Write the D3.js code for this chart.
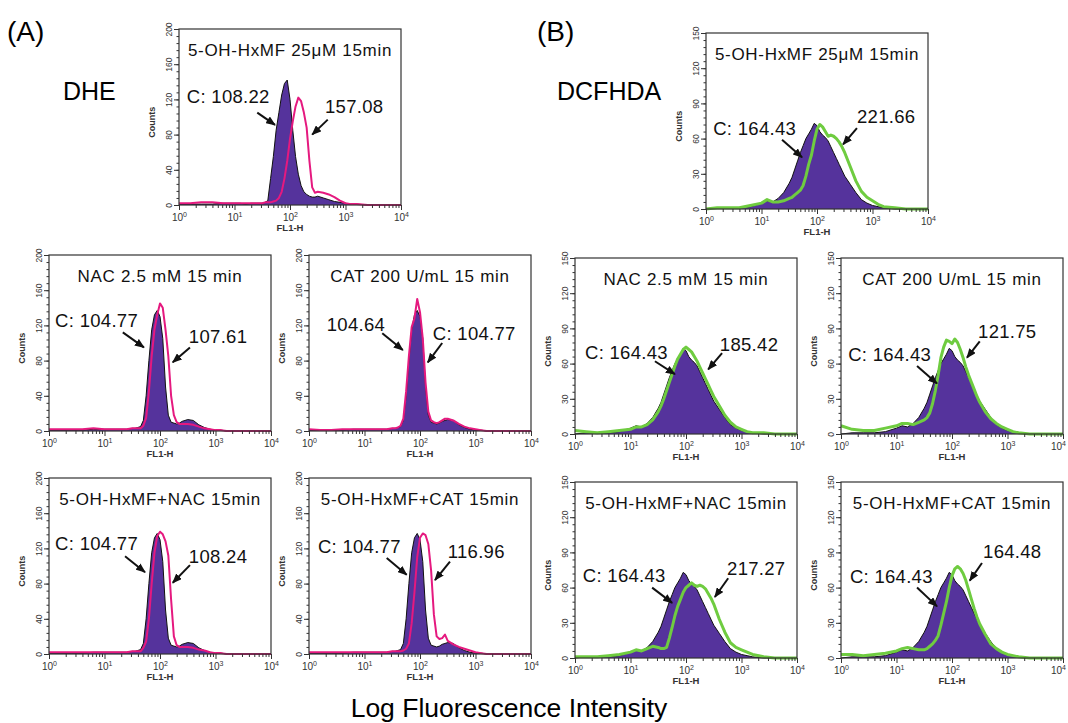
<!DOCTYPE html>
<html>
<head>
<meta charset="utf-8">
<script src="https://cdn.jsdelivr.net/npm/d3@7"></script>
<style>
  body { margin: 0; background: #fff; }
  svg { font-family: "Liberation Sans", Arial, sans-serif; }
</style>
</head>
<body>
<script>
// FL1-H channel positions, as log10 of the fluorescence value
const channelExp = [0, 0.2, 0.4, 0.6, 0.8, 1.0, 1.1, 1.2, 1.3, 1.4, 1.5, 1.55,
  1.6, 1.65, 1.7, 1.75, 1.8, 1.85, 1.9, 1.95, 2.0, 2.05,
  2.1, 2.15, 2.2, 2.25, 2.3, 2.35, 2.4, 2.45, 2.5, 2.6,
  2.7, 2.8, 2.9, 3.0, 3.1, 3.2, 3.4, 3.6, 3.8, 4.0];

// (A) DHE counts
const dheCtrlTop   = [1,1,1,1,2,2,2,1,2,2,2,3,
  5,30,55,85,105,125,138,142,120,85, 55,35,22,15,12,10,9,9,10,8, 6,4,3,2,1,1,0,0,0,0];
const dheHxmf      = [2,2,3,3,2,2,2,2,2,2,2,3,
  3,3,4,5,8,15,30,50,75,95, 112,122,118,105,88,50,20,14,15,14, 12,9,5,2,1,1,0,0,0,0];
const dheCtrl      = [1,1,1,1,2,2,2,2,2,2,3,3,
  4,5,12,40,80,115,132,137,130,105, 50,18,10,9,8,9,11,12,13,12, 7,4,2,1,1,0,0,0,0,0];
const dheNac       = [2,2,2,2,3,2,2,2,2,2,3,3,
  3,3,6,15,45,85,115,132,145,140, 115,85,40,18,10,8,8,8,8,7, 5,3,2,1,1,0,0,0,0,0];
const dheCat       = [2,1,1,2,2,2,2,2,2,2,3,3,
  4,6,14,45,85,118,128,150,135,105, 55,22,12,10,9,10,12,14,14,12, 8,5,3,2,1,0,0,0,0,0];
const dheHxmfNac   = [2,2,2,2,2,2,2,2,2,2,3,3,
  3,3,7,14,40,80,115,134,139,136, 128,112,62,20,10,8,8,8,8,7, 5,4,2,1,1,0,0,0,0,0];
const dheHxmfCat   = [2,2,2,2,2,2,2,2,2,2,3,3,
  3,3,4,6,12,35,70,110,132,137, 135,125,95,45,20,17,18,22,15,11, 8,6,4,2,1,0,0,0,0,0];

// (B) DCFHDA counts
const dcfCtrl      = [0,1,1,1,2,5,7,6,9,14,22,27,
  34,41,48,54,60,64,68,73,71,66, 63,61,58,53,48,43,38,33,28,21, 14,8,5,3,2,1,0,0,0,0];
const dcfHxmf      = [0,1,1,1,3,5,8,6,6,7,9,10,
  12,14,16,20,28,38,46,58,68,72, 70,66,62,63,62,60,57,53,48,36, 24,15,10,7,4,2,1,0,0,0];
const dcfNac       = [3,2,1,2,3,4,6,6,8,12,19,24,
  30,37,44,51,58,64,68,72,74,72, 70,66,62,57,52,47,42,37,32,24, 16,10,6,4,2,1,1,0,0,0];
const dcfCat       = [7,4,3,3,5,7,9,9,8,10,12,14,
  18,26,37,50,65,74,80,79,77,81, 78,72,65,57,50,44,38,32,27,19, 13,9,6,4,2,1,0,0,0,0];
const dcfHxmfNac   = [1,1,1,2,3,5,7,6,8,10,9,8,
  8,9,17,26,36,44,50,56,60,62, 64,62,61,62,61,59,55,51,46,33, 22,13,9,7,5,3,1,0,0,0];
const dcfHxmfCat   = [3,3,2,3,4,6,8,9,8,7,7,8,
  10,12,15,19,28,38,48,60,70,76, 78,76,72,66,58,50,42,35,29,20, 12,8,5,3,2,1,0,0,0,0];

const yTicksA = [0, 40, 80, 120, 160, 200];
const yTicksB = [0, 30, 60, 90, 120, 150];
const xMajor = [1, 10, 100, 1000, 10000];
const xExpLabels = ['0', '1', '2', '3', '4'];

const titles = ['5-OH-HxMF 25\u03bcM 15min', 'NAC 2.5 mM 15 min', 'CAT 200 U/mL 15 min',
  '5-OH-HxMF+NAC 15min', '5-OH-HxMF+CAT 15min'];

const purple = '#55339c', magenta = '#e5197f', green = '#6fcc40';
const W = 222, H = 176, pageW = 1068;

// annotation: text at [exp, count], arrow from [exp, count] to [exp, count]
const panels = [
  {left: 179, top: 29, ymax: 200, yTicks: yTicksA, control: dheCtrlTop, treat: dheHxmf, color: magenta, lw: 2, title: titles[0],
   notes: [{t: 'C: 108.22', at: [0.14, 116], from: [1.41, 105], to: [1.73, 91]},
           {t: '157.08', at: [2.63, 105], from: [2.68, 97], to: [2.40, 80]}]},
  {left: 49, top: 255, ymax: 200, yTicks: yTicksA, control: dheCtrl, treat: dheNac, color: magenta, lw: 2, title: titles[1],
   notes: [{t: 'C: 104.77', at: [0.11, 118], from: [1.33, 112], to: [1.71, 95]},
           {t: '107.61', at: [2.52, 100], from: [2.54, 95], to: [2.23, 78]}]},
  {left: 309, top: 255, ymax: 200, yTicks: yTicksA, control: dheCtrl, treat: dheCat, color: magenta, lw: 2, title: titles[2],
   notes: [{t: '104.64', at: [0.32, 114], from: [1.32, 111], to: [1.69, 92]},
           {t: 'C: 104.77', at: [2.23, 103], from: [2.40, 100], to: [2.14, 78]}]},
  {left: 49, top: 478, ymax: 200, yTicks: yTicksA, control: dheCtrl, treat: dheHxmfNac, color: magenta, lw: 2, title: titles[3],
   notes: [{t: 'C: 104.77', at: [0.11, 118], from: [1.37, 111], to: [1.73, 93]},
           {t: '108.24', at: [2.52, 103], from: [2.54, 101], to: [2.23, 81]}]},
  {left: 309, top: 478, ymax: 200, yTicks: yTicksA, control: dheCtrl, treat: dheHxmfCat, color: magenta, lw: 2, title: titles[4],
   notes: [{t: 'C: 104.77', at: [0.16, 115], from: [1.40, 109], to: [1.76, 90]},
           {t: '116.96', at: [2.50, 109], from: [2.54, 105], to: [2.27, 84]}]},
  {left: 706, top: 33, ymax: 150, yTicks: yTicksB, control: dcfCtrl, treat: dcfHxmf, color: green, lw: 3, title: titles[0],
   notes: [{t: 'C: 164.43', at: [0.13, 63], from: [1.37, 59], to: [1.73, 44]},
           {t: '221.66', at: [2.72, 73], from: [2.72, 69], to: [2.47, 55]}]},
  {left: 575, top: 258, ymax: 150, yTicks: yTicksB, control: dcfCtrl, treat: dcfNac, color: green, lw: 3, title: titles[1],
   notes: [{t: 'C: 164.43', at: [0.18, 64], from: [1.44, 62], to: [1.80, 51]},
           {t: '185.42', at: [2.61, 71], from: [2.65, 69], to: [2.40, 55]}]},
  {left: 841, top: 258, ymax: 150, yTicks: yTicksB, control: dcfCtrl, treat: dcfCat, color: green, lw: 3, title: titles[2],
   notes: [{t: 'C: 164.43', at: [0.13, 62], from: [1.37, 58], to: [1.73, 43]},
           {t: '121.75', at: [2.47, 82], from: [2.50, 79], to: [2.27, 65]}]},
  {left: 575, top: 482, ymax: 150, yTicks: yTicksB, control: dcfCtrl, treat: dcfHxmfNac, color: green, lw: 3, title: titles[3],
   notes: [{t: 'C: 164.43', at: [0.14, 65], from: [1.39, 60], to: [1.75, 47]},
           {t: '217.27', at: [2.74, 71], from: [2.76, 68], to: [2.52, 52]}]},
  {left: 841, top: 482, ymax: 150, yTicks: yTicksB, control: dcfCtrl, treat: dcfHxmfCat, color: green, lw: 3, title: titles[4],
   notes: [{t: 'C: 164.43', at: [0.16, 64], from: [1.37, 60], to: [1.73, 44]},
           {t: '164.48', at: [2.56, 85], from: [2.54, 81], to: [2.32, 66]}]}
];

const svg = d3.select(document.body).append('svg')
  .attr('width', pageW).attr('height', 723);

svg.append('defs').append('marker')
  .attr('id', 'head')
  .attr('markerUnits', 'userSpaceOnUse')
  .attr('viewBox', '0 0 10 8')
  .attr('refX', 9).attr('refY', 4)
  .attr('markerWidth', 10).attr('markerHeight', 8)
  .attr('orient', 'auto')
  .append('path').attr('d', 'M0,0 L10,4 L0,8 Z').attr('fill', '#111');

panels.forEach(drawPanel);

// figure labels
svg.append('text').attr('x', 7).attr('y', 41).attr('font-size', 28).text('(A)');
svg.append('text').attr('x', 537).attr('y', 41).attr('font-size', 28).text('(B)');
svg.append('text').attr('x', 63).attr('y', 100).attr('font-size', 25).text('DHE');
svg.append('text').attr('x', 557).attr('y', 100).attr('font-size', 25).text('DCFHDA');
svg.append('text').attr('x', 509).attr('y', 717).attr('font-size', 26.5)
  .attr('text-anchor', 'middle').text('Log Fluorescence Intensity');

function drawPanel(p){
  const g = svg.append('g').attr('transform', `translate(${p.left},${p.top})`);
  const x = d3.scaleLog().domain([1, 1e4]).range([0, W]);
  const y = d3.scaleLinear().domain([0, p.ymax]).range([H, 0]);
  const pts = arr => arr.map((c, i) => [Math.pow(10, channelExp[i]), c]);

  const area = d3.area().x(d => x(d[0])).y0(H).y1(d => y(d[1]));
  const line = d3.line().x(d => x(d[0])).y(d => y(d[1]));

  // control: filled histogram with black outline
  g.append('path').datum(pts(p.control)).attr('d', area).attr('fill', purple);
  g.append('path').datum(pts(p.control)).attr('d', line)
    .attr('fill', 'none').attr('stroke', '#111').attr('stroke-width', 1);
  // treatment: open histogram
  g.append('path').datum(pts(p.treat)).attr('d', line)
    .attr('fill', 'none').attr('stroke', p.color).attr('stroke-width', p.lw)
    .attr('stroke-linejoin', 'round');

  g.append('rect').attr('width', W).attr('height', H)
    .attr('fill', 'none').attr('stroke', '#333').attr('stroke-width', 1.2);

  // y axis
  const ya = g.append('g').attr('class', 'axis')
    .call(d3.axisLeft(y).tickValues(p.yTicks).tickSize(5).tickSizeOuter(0));
  ya.select('.domain').remove();
  ya.selectAll('text')
    .attr('transform', 'rotate(-90)').attr('x', 0).attr('y', -7).attr('dy', 0)
    .style('text-anchor', 'middle').attr('font-size', 8.5).attr('fill', '#333');
  const yMinor = g.append('g')
    .call(d3.axisLeft(y).tickValues(d3.range(0, p.ymax, p.ymax / 25)).tickSize(2.5).tickFormat(''));
  yMinor.select('.domain').remove();
  g.append('text')
    .attr('transform', `translate(-24,${H * 0.53}) rotate(-90)`)
    .attr('text-anchor', 'middle').attr('font-size', 9).attr('font-weight', 'bold')
    .attr('fill', '#333').text('Counts');

  // x axis (log)
  const xMinor = [];
  [1, 10, 100, 1000].forEach(d => { for (let k = 2; k < 10; k++) xMinor.push(d * k); });
  const xm = g.append('g').attr('transform', `translate(0,${H})`)
    .call(d3.axisBottom(x).tickValues(xMinor).tickSize(3).tickFormat(''));
  xm.select('.domain').remove();
  const xa = g.append('g').attr('transform', `translate(0,${H})`)
    .call(d3.axisBottom(x).tickValues(xMajor).tickSize(5).tickFormat(''));
  xa.select('.domain').remove();
  xa.selectAll('.tick').each(function(d, i){
    // keep the last label inside the page when the panel touches the right edge
    const overflow = p.left + x(d) + 10 - pageW;
    const t = d3.select(this).append('text')
      .attr('x', overflow > 0 ? -overflow : 0)
      .attr('y', 16).attr('fill', '#333').attr('font-size', 10)
      .style('text-anchor', 'middle');
    t.append('tspan').text('10');
    t.append('tspan').attr('dy', -4).attr('font-size', 7).text(xExpLabels[i]);
  });
  g.append('text').attr('x', W / 2).attr('y', H + 26)
    .attr('text-anchor', 'middle').attr('font-size', 9.5).attr('font-weight', 'bold')
    .attr('fill', '#333').text('FL1-H');

  g.selectAll('g line').attr('stroke', '#333');

  // title
  g.append('text').attr('x', W / 2).attr('y', 27)
    .attr('text-anchor', 'middle').attr('font-size', 17).attr('letter-spacing', 0.7)
    .attr('fill', '#111').text(p.title);

  // value labels and arrows
  const ex = e => x(Math.pow(10, e));
  p.notes.forEach(n => {
    g.append('text').attr('x', ex(n.at[0])).attr('y', y(n.at[1]))
      .attr('font-size', 18.5).attr('letter-spacing', 0.3).attr('fill', '#111').text(n.t);
    g.append('line')
      .attr('x1', ex(n.from[0])).attr('y1', y(n.from[1]))
      .attr('x2', ex(n.to[0])).attr('y2', y(n.to[1]))
      .attr('stroke', '#111').attr('stroke-width', 2)
      .attr('marker-end', 'url(#head)');
  });
}
</script>
</body>
</html>
